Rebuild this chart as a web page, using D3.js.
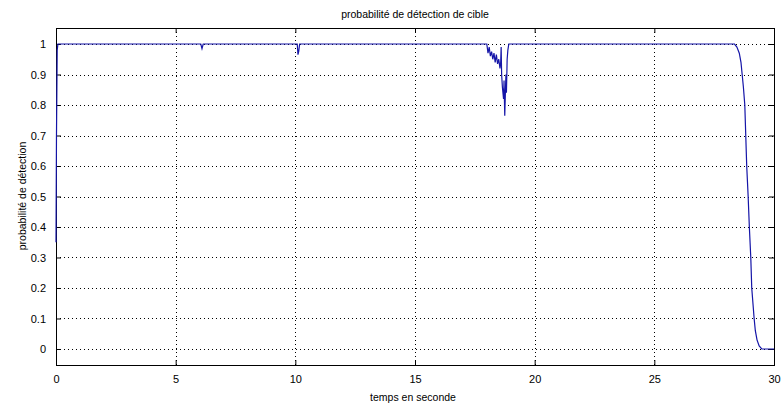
<!DOCTYPE html>
<html>
<head>
<meta charset="utf-8">
<script src="https://cdn.jsdelivr.net/npm/d3@7"></script>
<style>
  html, body { margin: 0; padding: 0; background: #ffffff; }
  svg { display: block; }
  text { font-family: "Liberation Sans", Arial, sans-serif; fill: #000; }
</style>
</head>
<body>
<svg id="chart" width="781" height="406"></svg>
<script>
const titleText = "probabilité de détection de cible";
const xLabelText = "temps en seconde";
const yLabelText = "probabilité de détection";

const xTicks = [0, 5, 10, 15, 20, 25, 30];
const yTicks = [0, 0.1, 0.2, 0.3, 0.4, 0.5, 0.6, 0.7, 0.8, 0.9, 1];

// time (s)
const times = [
  0, 0.02, 0.05, 0.08,
  6.05, 6.1, 6.15,
  10.08, 10.11, 10.14, 10.18,
  18.0, 18.05, 18.1, 18.15, 18.2, 18.25, 18.3, 18.35, 18.4, 18.45, 18.5, 18.55, 18.58, 18.6, 18.62, 18.65, 18.7, 18.72, 18.75, 18.78, 18.8, 18.82, 18.85, 18.88, 18.92,
  28.35, 28.45, 28.55, 28.62, 28.67, 28.72, 28.78, 28.82, 28.86, 28.92, 28.97, 29.03, 29.07, 29.17, 29.22, 29.29, 29.38, 29.49, 30
];
// detection probability
const probs = [
  0.35, 0.7, 0.98, 1,
  1, 0.985, 1,
  1, 0.965, 0.975, 1,
  1, 0.97, 0.99, 0.96, 0.975, 0.95, 0.97, 0.94, 0.965, 0.935, 0.95, 0.92, 0.94, 0.99, 0.9, 0.86, 0.82, 0.88, 0.765, 0.85, 0.9, 0.84, 0.95, 0.98, 1,
  1, 0.99, 0.97, 0.94, 0.9, 0.86, 0.8, 0.7, 0.6, 0.5, 0.4, 0.3, 0.2, 0.1, 0.06, 0.03, 0.01, 0, 0
];

const svg = d3.select("#chart");
const L = 56, R = 774, T = 28, B = 365;

const x = d3.scaleLinear().domain([0, 30]).range([L, R]);
const y = d3.scaleLinear().domain([-0.0525, 1.0525]).range([B, T]);

// grid
const grid = svg.append("g").attr("stroke", "#000").attr("stroke-width", 1).attr("stroke-dasharray", "1,3");
xTicks.forEach(t => {
  grid.append("line").attr("x1", Math.round(x(t)) + 0.5).attr("x2", Math.round(x(t)) + 0.5)
    .attr("y1", T).attr("y2", B);
});
yTicks.forEach(t => {
  grid.append("line").attr("y1", Math.round(y(t)) + 0.5).attr("y2", Math.round(y(t)) + 0.5)
    .attr("x1", L).attr("x2", R);
});

// axes (inward ticks)
const xb = svg.append("g").attr("transform", `translate(0,${B})`)
  .call(d3.axisBottom(x).tickValues(xTicks).tickSize(-5).tickPadding(10).tickFormat(d3.format("d")));
const xt = svg.append("g").attr("transform", `translate(0,${T})`)
  .call(d3.axisTop(x).tickValues(xTicks).tickSize(-5).tickFormat(""));
const yl = svg.append("g").attr("transform", `translate(${L},0)`)
  .call(d3.axisLeft(y).tickValues(yTicks).tickSize(-5).tickPadding(10).tickFormat(d => d === 0 || d === 1 ? String(d) : d3.format(".1f")(d)));
const yr = svg.append("g").attr("transform", `translate(${R},0)`)
  .call(d3.axisRight(y).tickValues(yTicks).tickSize(-5).tickFormat(""));

[xb, xt, yl, yr].forEach(g => {
  g.select(".domain").remove();
  g.selectAll("line").attr("stroke", "#000");
  g.selectAll("text").style("font-family", "'Liberation Sans', Arial, sans-serif").style("font-size", "11px").attr("fill", "#000");
});

// box
svg.append("rect").attr("x", L + 0.5).attr("y", T + 0.5).attr("width", R - L).attr("height", B - T)
  .attr("fill", "none").attr("stroke", "#000").attr("stroke-width", 1);

// data line
const data = times.map((t, i) => ({ t, v: probs[i] }));
svg.append("path").datum(data)
  .attr("fill", "none").attr("stroke", "#1515a8").attr("stroke-width", 1.2)
  .attr("d", d3.line().x(d => x(d.t)).y(d => y(d.v)));

// labels
svg.append("text").attr("x", 415).attr("y", 18).attr("text-anchor", "middle")
  .style("font-size", "10.5px").text(titleText);
svg.append("text").attr("x", 413).attr("y", 401).attr("text-anchor", "middle")
  .style("font-size", "10.5px").text(xLabelText);
svg.append("text").attr("transform", "translate(26,196) rotate(-90)").attr("text-anchor", "middle")
  .style("font-size", "10.5px").text(yLabelText);
</script>
</body>
</html>
